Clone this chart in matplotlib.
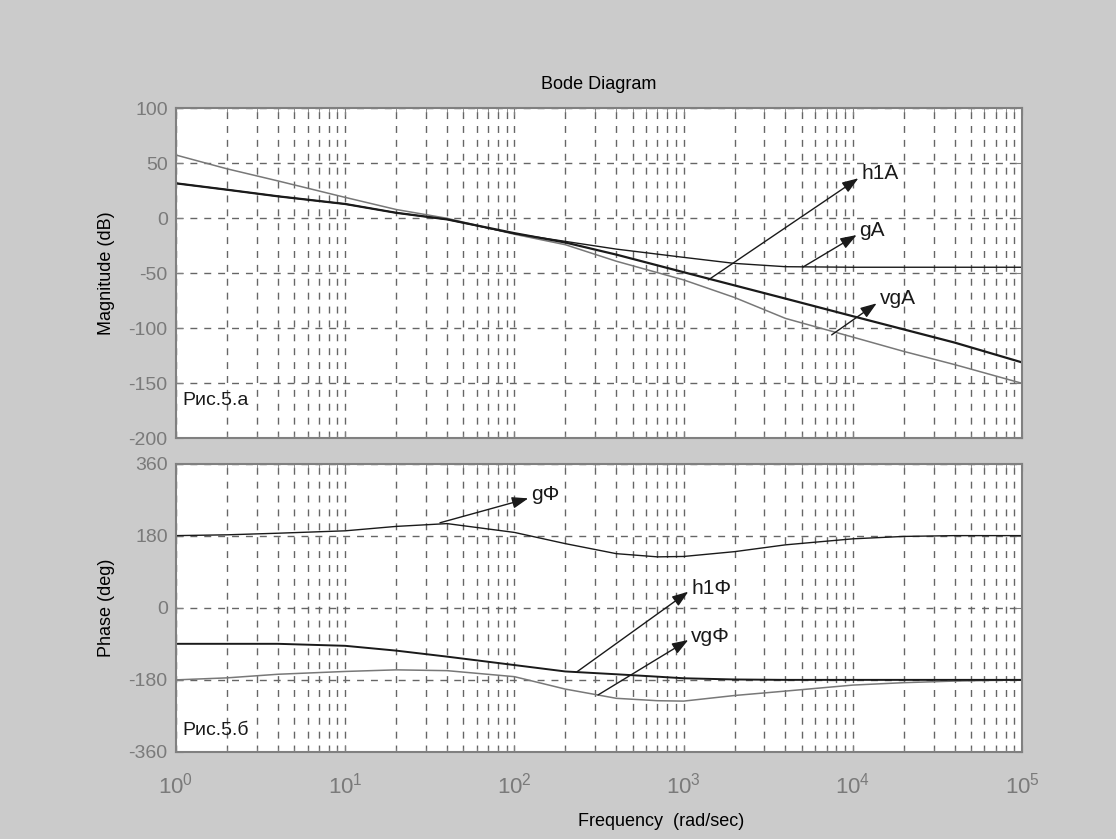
import numpy as np
import matplotlib
matplotlib.use("Agg")
import matplotlib.pyplot as plt

plt.rcParams['font.family'] = ['Liberation Sans', 'DejaVu Sans']
plt.rcParams['mathtext.fontset'] = 'custom'
plt.rcParams['mathtext.rm'] = 'Liberation Sans'
plt.rcParams['axes.unicode_minus'] = False

# частоты (rad/sec) для амплитудных характеристик
w_mag = [1, 2, 4, 10, 20, 40, 100, 200, 400, 1000, 2000, 4000, 1e4, 2e4, 4e4, 1e5]
gA = [31.8, 26, 20, 13, 5, -1, -14, -21, -28, -35.5, -41, -44, -44.5, -44.5, -44.5, -44.5]
h1A = [31.8, 26, 20, 13, 5, -1, -13.5, -22, -33, -49, -61, -73, -89, -101, -113, -131]
vgA = [57.5, 45, 34, 19, 8, 0, -14.5, -24, -39, -56, -72, -91, -108, -121, -133, -150]

# фазовые характеристики
w_ph = [1, 2, 4, 10, 20, 40, 100, 200, 400, 700, 1000, 2000, 4000, 1e4, 2e4, 4e4, 1e5]
g_phi = [180, 182, 186, 192, 203, 210, 188, 160, 135, 127, 128, 140, 157, 172, 178, 180, 180]
h1_phi = [-90, -90, -90, -95, -107, -122, -143, -159, -166, -172, -176, -179, -180, -180, -180, -180, -180]
vg_phi = [-180, -175, -166, -159, -155, -157, -172, -203, -226, -232, -233, -219, -208, -193, -187, -183, -180]

# подписи со стрелками: (текст, начало стрелки, конец стрелки)
mag_notes = [('h1A', (1400, -56), (10790, 36.4)),
             ('gA', (5080, -44.3), (10540, -15.2)),
             ('vgA', (7500, -106), (13840, -77.3))]
ph_notes = [('gΦ', (36.3, 212), (120.8, 273)),
            ('h1Φ', (234, -160), (1066, 40)),
            ('vgΦ', (312, -217.7), (1066, -80.5))]

dark = '#1a1a1a'
gray = '#787878'
grid_c = '#666666'
bg = '#cbcbcb'

fig = plt.figure(figsize=(11.16, 8.39), dpi=100, facecolor=bg)
ax1 = fig.add_axes([176/1116, 1 - 438.3/839, 846/1116, 330/839])
ax2 = fig.add_axes([176/1116, 1 - 752/839, 846/1116, 288.5/839], sharex=ax1)


def style(ax):
    ax.set_facecolor('white')
    ax.set_xscale('log')
    ax.set_xlim(1, 1e5)
    ax.grid(True, which='both', axis='x', color=grid_c, linestyle=(0, (5, 5)), linewidth=1.0)
    ax.grid(True, which='major', axis='y', color=grid_c, linestyle=(0, (5, 5)), linewidth=1.0)
    for s in ax.spines.values():
        s.set_color('#808080')
        s.set_linewidth(1.5)
    ax.tick_params(which='both', direction='in', top=True, right=True, colors='#808080',
                   labelcolor='#7a7a7a', labelsize=14)
    ax.tick_params(which='major', length=5, pad=6)
    ax.tick_params(which='minor', length=3)


def arrows(ax, notes):
    for label, start, tip in notes:
        ax.annotate('', xy=tip, xytext=start,
                    arrowprops=dict(arrowstyle='-|>,head_length=0.7,head_width=0.25',
                                    color=dark, lw=1.0, shrinkA=0, shrinkB=0,
                                    mutation_scale=14))
        ax.text(tip[0] * 1.04, tip[1] + 4 if ax is ax1 else tip[1] + 9, label,
                fontsize=15, color=dark, ha='left', va='center')


style(ax1)
ax1.plot(w_mag, vgA, color=gray, lw=1.1)
ax1.plot(w_mag, gA, color=dark, lw=1.0)
ax1.plot(w_mag, h1A, color=dark, lw=1.6)
ax1.set_ylim(-200, 100)
ax1.set_yticks([-200, -150, -100, -50, 0, 50, 100])
ax1.tick_params(axis='x', which='both', labelbottom=False)
ax1.set_ylabel('Magnitude (dB)', fontsize=13, labelpad=10)
ax1.set_title('Bode Diagram', fontsize=13, pad=14)
ax1.text(0.008, 0.116, 'Рис.5.а', transform=ax1.transAxes, fontsize=14, color=dark,
         ha='left', va='center')
arrows(ax1, mag_notes)

style(ax2)
ax2.plot(w_ph, vg_phi, color=gray, lw=1.1)
ax2.plot(w_ph, g_phi, color=dark, lw=1.0)
ax2.plot(w_ph, h1_phi, color=dark, lw=1.4)
ax2.set_ylim(-360, 360)
ax2.set_yticks([-360, -180, 0, 180, 360])
ax2.tick_params(axis='x', which='major', pad=15, labelsize=16)
ax2.set_ylabel('Phase (deg)', fontsize=13, labelpad=10)
ax2.text(0.007, 0.076, 'Рис.5.б', transform=ax2.transAxes, fontsize=14, color=dark,
         ha='left', va='center')
arrows(ax2, ph_notes)

fig.text(661/1116, 1 - 821/839, 'Frequency  (rad/sec)', fontsize=13, ha='center', va='center')

fig.savefig('out.png', dpi=100, facecolor=bg)
